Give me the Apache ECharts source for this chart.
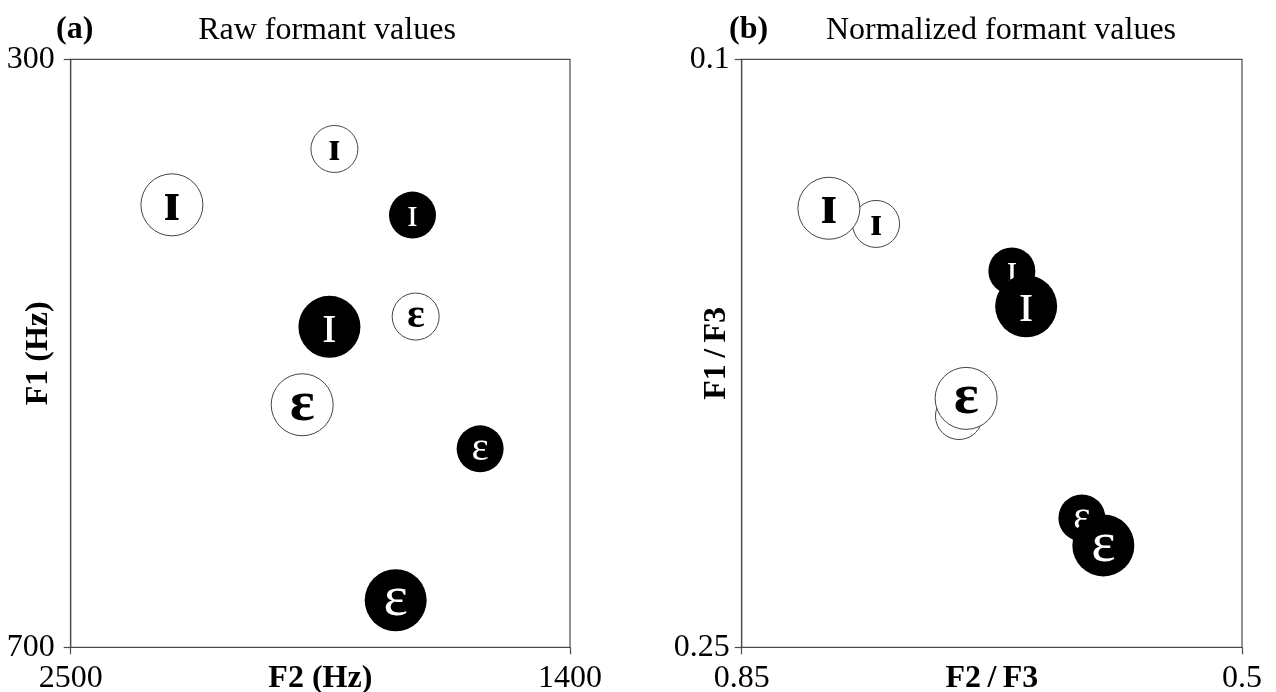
<!DOCTYPE html>
<html>
<head>
<meta charset="utf-8">
<script src="https://cdn.jsdelivr.net/npm/echarts@6/dist/echarts.min.js"></script>
<style>
html,body{margin:0;padding:0;background:#fff;}
#chart{width:1276px;height:692px;}
</style>
</head>
<body>
<div id="chart"></div>
<script>
// Point order: white large ɪ, white small ɪ, white small ɛ, white large ɛ,
//              black small ɪ, black large ɪ, black small ɛ, black large ɛ
const vowels = ['ɪ', 'ɪ', 'ɛ', 'ɛ', 'ɪ', 'ɪ', 'ɛ', 'ɛ'];
const groups = ['white', 'white', 'white', 'white', 'black', 'black', 'black', 'black'];
const sizes = ['large', 'small', 'small', 'large', 'small', 'large', 'small', 'large'];

// Panel (a): raw formants
const rawF2 = [2277, 1919, 1740, 1990, 1747, 1930, 1598, 1784];
const rawF1 = [399, 361, 475, 535, 406, 482, 565, 668];

// Panel (b): normalized formants
const normF2F3 = [0.789, 0.756, 0.698, 0.693, 0.661, 0.651, 0.612, 0.597];
const normF1F3 = [0.138, 0.142, 0.191, 0.1865, 0.154, 0.163, 0.217, 0.224];

// Axis ranges and tick labels
const rawXTicks = [1400, 2500];
const rawYTicks = [300, 700];
const normXTicks = [0.5, 0.85];
const normYTicks = [0.1, 0.25];

const FONT = '"Liberation Serif", "Times New Roman", "DejaVu Serif", serif';
const LINE = '#4a4a4a';
const FS = 32;

function buildData(xs, ys, sizeKind) {
  const out = [];
  xs.forEach((x, i) => {
    if (sizes[i] !== sizeKind) return;
    const white = groups[i] === 'white';
    const large = sizes[i] === 'large';
    out.push({
      name: vowels[i],
      value: [x, ys[i]],
      symbolSize: large ? 62 : 47,
      itemStyle: white
        ? { color: '#ffffff', borderColor: '#444', borderWidth: 1, opacity: 1 }
        : { color: '#000000', borderWidth: 0, opacity: 1 },
      label: {
        show: true,
        position: 'inside',
        formatter: '{b}',
        color: white ? '#000' : '#fff',
        fontFamily: FONT,
        fontWeight: white ? 'bold' : 'normal',
        fontSize: large ? 58 : 41
      }
    });
  });
  return out;
}

function plain(v) { return String(v); }

function xAxisCfg(idx, min, max, ticks, name, margin, nameGap) {
  return {
    type: 'value', gridIndex: idx, min: min, max: max, inverse: true,
    name: name, nameLocation: 'middle', nameGap: nameGap, nameMoveOverlap: false,
    nameTextStyle: { fontFamily: FONT, fontSize: FS, fontWeight: 'bold', color: '#000', verticalAlign: 'top' },
    axisLine: { show: true, lineStyle: { color: LINE, width: 1.2 } },
    axisTick: { show: true, length: 7, inside: false, customValues: ticks, lineStyle: { color: LINE, width: 1.2 } },
    axisLabel: { show: true, customValues: ticks, formatter: plain, margin: margin, fontFamily: FONT, fontSize: FS, color: '#000', verticalAlign: 'top' },
    splitLine: { show: false }
  };
}
function yAxisCfg(idx, min, max, ticks, name, margin, nameGap) {
  return {
    type: 'value', gridIndex: idx, min: min, max: max, inverse: true,
    name: name, nameLocation: 'middle', nameGap: nameGap, nameMoveOverlap: false,
    nameTextStyle: { fontFamily: FONT, fontSize: FS, fontWeight: 'bold', color: '#000' },
    axisLine: { show: true, lineStyle: { color: LINE, width: 1.2 } },
    axisTick: { show: true, length: 7, inside: false, customValues: ticks, lineStyle: { color: LINE, width: 1.2 } },
    axisLabel: { show: true, customValues: ticks, formatter: plain, margin: margin, fontFamily: FONT, fontSize: FS, color: '#000' },
    splitLine: { show: false }
  };
}

function scatterSeries(xi, yi, data, z) {
  return { type: 'scatter', xAxisIndex: xi, yAxisIndex: yi, symbol: 'circle', silent: true, z: z,
    emphasis: { disabled: true }, data: data };
}

const chart = echarts.init(document.getElementById('chart'), null, { renderer: 'canvas' });
chart.setOption({
  animation: false,
  backgroundColor: '#fff',
  graphic: [
    { type: 'text', left: 56, top: 14, style: { text: '(a)', font: 'bold 32px ' + FONT, fill: '#000' } },
    { type: 'text', x: 327, y: 31, style: { text: 'Raw formant values', font: '32px ' + FONT, fill: '#000', align: 'center', verticalAlign: 'middle' } },
    { type: 'text', left: 729, top: 14, style: { text: '(b)', font: 'bold 32px ' + FONT, fill: '#000' } },
    { type: 'text', x: 1001, y: 31, style: { text: 'Normalized formant values', font: '32px ' + FONT, fill: '#000', align: 'center', verticalAlign: 'middle' } }
  ],
  grid: [
    { left: 70.7, top: 59.3, width: 499.3, height: 588, outerBoundsMode: 'none', containLabel: false, show: true, borderColor: LINE, borderWidth: 1.2, backgroundColor: 'transparent' },
    { left: 741.7, top: 59.3, width: 500.3, height: 588, outerBoundsMode: 'none', containLabel: false, show: true, borderColor: LINE, borderWidth: 1.2, backgroundColor: 'transparent' }
  ],
  xAxis: [
    xAxisCfg(0, rawXTicks[0], rawXTicks[1], rawXTicks, 'F2 (Hz)', 15, 15),
    xAxisCfg(1, normXTicks[0], normXTicks[1], normXTicks, 'F2\u2009/\u2009F3', 15, 15)
  ],
  yAxis: [
    yAxisCfg(0, rawYTicks[0], rawYTicks[1], rawYTicks, 'F1 (Hz)', 16, 16),
    yAxisCfg(1, normYTicks[0], normYTicks[1], normYTicks, 'F1\u2009/\u2009F3', 12, 9)
  ],
  series: [
    scatterSeries(0, 0, buildData(rawF2, rawF1, 'small'), 2),
    scatterSeries(0, 0, buildData(rawF2, rawF1, 'large'), 3),
    scatterSeries(1, 1, buildData(normF2F3, normF1F3, 'small'), 2),
    scatterSeries(1, 1, buildData(normF2F3, normF1F3, 'large'), 3)
  ]
});
</script>
</body>
</html>
